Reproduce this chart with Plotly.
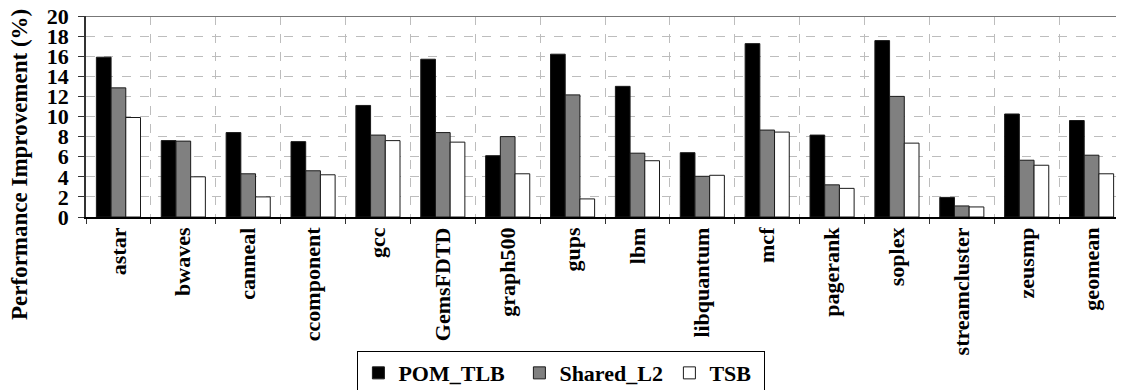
import plotly.graph_objects as go

categories = ["astar", "bwaves", "canneal", "ccomponent", "gcc", "GemsFDTD", "graph500",
              "gups", "lbm", "libquantum", "mcf", "pagerank", "soplex", "streamcluster",
              "zeusmp", "geomean"]
pom_tlb = [15.9, 7.6, 8.4, 7.5, 11.1, 15.7, 6.1, 16.2, 13.0, 6.4, 17.25, 8.15, 17.55, 1.95, 10.25, 9.6]
shared_l2 = [12.85, 7.55, 4.3, 4.6, 8.15, 8.4, 8.0, 12.15, 6.35, 4.05, 8.65, 3.2, 12.0, 1.1, 5.65, 6.15]
tsb = [9.9, 4.0, 2.0, 4.2, 7.6, 7.45, 4.3, 1.8, 5.6, 4.15, 8.45, 2.85, 7.35, 1.0, 5.15, 4.3]
y_ticks = [0, 2, 4, 6, 8, 10, 12, 14, 16, 18, 20]

FONT = "Liberation Serif"

fig = go.Figure()
series = [("POM_TLB", pom_tlb, "#000000", 116), ("Shared_L2", shared_l2, "#808080", 105),
          ("TSB", tsb, "#ffffff", 50)]
for name, vals, col, lw in series:
    fig.add_trace(go.Bar(x=categories, y=vals, name=name, legendwidth=lw,
                         marker=dict(color=col, line=dict(color="#1a1a1a", width=1))))

# the page body adds an 8px margin, so the figure is 16px smaller than the window
fig.update_layout(
    width=1116, height=382,
    margin=dict(l=78, r=0, t=8, b=173, autoexpand=False),
    paper_bgcolor="white", plot_bgcolor="white",
    font=dict(family=FONT, size=21, color="black", weight="bold"),
    barmode="group", bargap=0.32, bargroupgap=0,
    showlegend=True,
    legend=dict(orientation="h", x=0.458, xanchor="center", y=-0.667, yanchor="top",
                bordercolor="#000000", borderwidth=1, bgcolor="white",
                font=dict(family=FONT, size=22, weight="bold"),
                itemwidth=30, traceorder="normal"),
)

fig.update_xaxes(type="category", tickson="boundaries", ticks="outside", ticklen=5, tickcolor="#333",
                 tickangle=-90, showline=True, linecolor="#000", linewidth=1.5,
                 showgrid=True, gridcolor="#bdbdbd", griddash="dash", gridwidth=1,
                 automargin=False,
                 tickfont=dict(family=FONT, size=22, weight="bold"))
fig.update_yaxes(range=[0, 20], tickvals=y_ticks, ticks="outside", ticklen=6, tickcolor="#333",
                 showline=True, linecolor="#333", linewidth=1.5,
                 showgrid=True, gridcolor="#bdbdbd", griddash="dash", gridwidth=1,
                 zeroline=False, ticklabelstandoff=5, automargin=False, ticklabeloverflow="allow",
                 tickfont=dict(family=FONT, size=22, weight="bold"))

fig.add_shape(type="line", xref="paper", yref="y", x0=0, x1=1, y0=20, y1=20,
              line=dict(color="#777777", width=2))

fig.add_annotation(text="Performance Improvement (%)", textangle=-90, xref="paper", yref="paper",
                   x=-0.0636, y=0.2637, xanchor="center", yanchor="middle", showarrow=False,
                   font=dict(family=FONT, size=23, weight="bold", color="black"))

fig.write_html("out.html")
